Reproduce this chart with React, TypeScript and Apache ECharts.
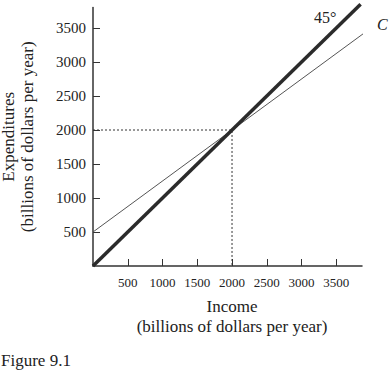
import React, { useEffect, useRef } from "react";
import * as echarts from "echarts";

const incomeTicks = [500, 1000, 1500, 2000, 2500, 3000, 3500];
const expenditureTicks = [500, 1000, 1500, 2000, 2500, 3000, 3500];
const line45Income = [0, 3850];
const line45Exp = [0, 3850];
const cIncome = [0, 3960];
const cExp = [500, 3470];
const equilibrium = 2000;

const FONT = "Liberation Serif";
const INK = "#222";

export default function App() {
  const ref = useRef<HTMLDivElement>(null);
  useEffect(() => {
    document.body.style.margin = "0";
    const chart = echarts.init(ref.current!, null, { renderer: "svg" });
    chart.setOption({
      animation: false,
      backgroundColor: "#fff",
      textStyle: { fontFamily: FONT, color: INK },
      grid: { left: 93, right: 28, top: 7.6, bottom: 110, containLabel: false, outerBoundsMode: "none" },
      xAxis: {
        type: "value",
        min: 0,
        max: 3870,
        name: "Income\n(billions of dollars per year)",
        nameLocation: "middle",
        nameGap: 30,
        nameTextStyle: { fontFamily: FONT, fontSize: 17, color: INK, lineHeight: 20, padding: [0, 0, 0, 9] },
        axisLine: { show: true, onZero: false, lineStyle: { color: "#333", width: 1.5 } },
        axisTick: { show: true, inside: true, length: 7, customValues: incomeTicks, lineStyle: { color: "#333", width: 1 } },
        axisLabel: { customValues: incomeTicks, formatter: (v: number) => String(v), margin: 10, fontFamily: FONT, fontSize: 13, color: INK },
        splitLine: { show: false },
      },
      yAxis: {
        type: "value",
        min: 0,
        max: 3800,
        name: "Expenditures\n(billions of dollars per year)",
        nameLocation: "middle",
        nameRotate: 90,
        nameGap: 56,
        nameTextStyle: { fontFamily: FONT, fontSize: 17, color: INK, lineHeight: 19 },
        axisLine: { show: true, onZero: false, lineStyle: { color: "#333", width: 1.5 } },
        axisTick: { show: true, inside: true, length: 7, customValues: expenditureTicks, lineStyle: { color: "#333", width: 1 } },
        axisLabel: { customValues: expenditureTicks, formatter: (v: number) => String(v), margin: 7, fontFamily: FONT, fontSize: 15, color: INK },
        splitLine: { show: false },
      },
      series: [
        {
          type: "line",
          name: "guide",
          data: [[0, equilibrium], [equilibrium, equilibrium], [equilibrium, 0]],
          symbol: "none",
          lineStyle: { color: "#333", width: 1, type: [2, 2] },
          z: 1,
        },
        {
          type: "line",
          name: "C",
          data: cIncome.map((x, i) => [x, cExp[i]]),
          symbol: "none",
          clip: false,
          lineStyle: { color: "#555", width: 1 },
          z: 2,
        },
        {
          type: "line",
          name: "45°",
          data: line45Income.map((x, i) => [x, line45Exp[i]]),
          symbol: "none",
          clip: false,
          lineStyle: { color: "#2b2b2b", width: 3.5 },
          z: 3,
        },
      ],
      graphic: [
        { type: "text", left: 314, top: 9, style: { text: "45°", fontFamily: FONT, fontSize: 16, fill: INK } },
        { type: "text", left: 377, top: 16, style: { text: "C", fontFamily: FONT, fontSize: 16, fontStyle: "italic", fill: INK } },
        { type: "text", left: 1, top: 352, style: { text: "Figure 9.1", fontFamily: FONT, fontSize: 17, fill: INK } },
      ],
    });
    return () => chart.dispose();
  }, []);
  return <div ref={ref} style={{ width: 390, height: 376 }} />;
}
